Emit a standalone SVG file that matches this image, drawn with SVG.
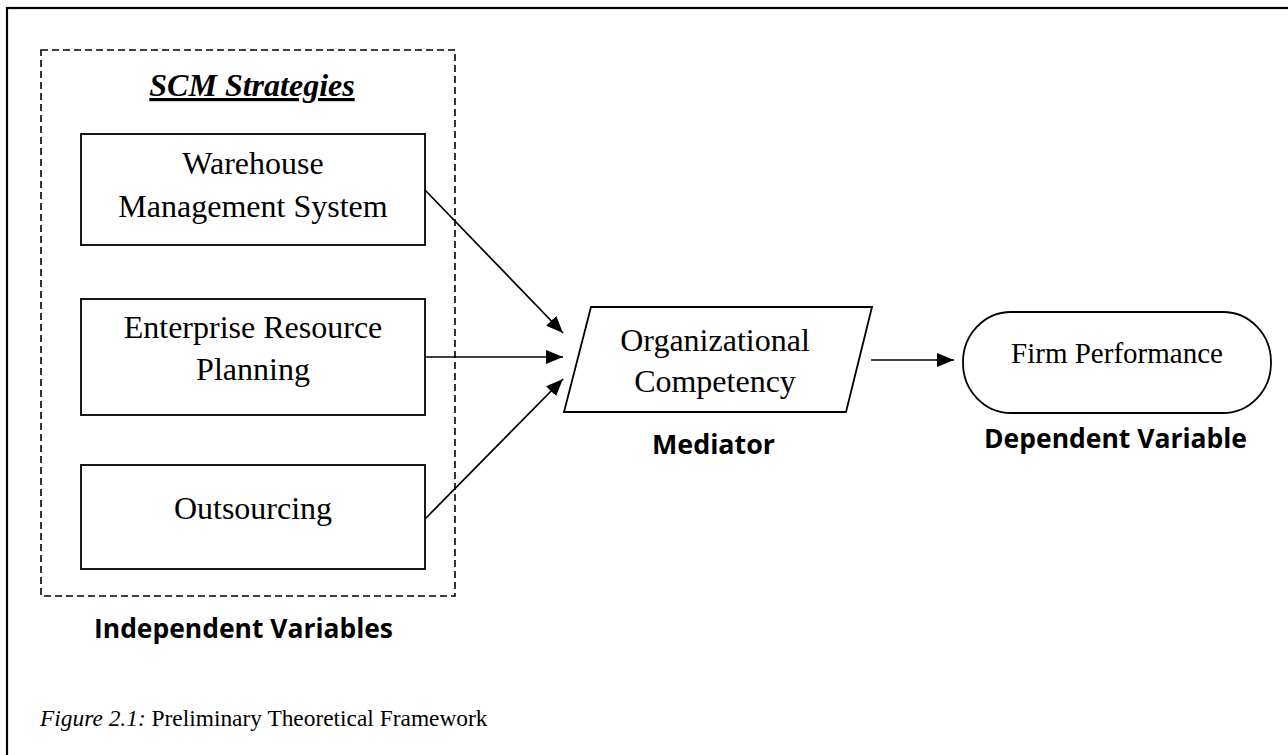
<svg xmlns="http://www.w3.org/2000/svg" width="1288" height="755" viewBox="0 0 1288 755">
<defs>
<marker id="arr" markerUnits="userSpaceOnUse" markerWidth="17" markerHeight="14" refX="17" refY="7" orient="auto">
<path d="M0,0 L17,7 L0,14 z" fill="#000"/>
</marker>
<style>
.box{fill:#fff;stroke:#000;stroke-width:1.8}
.serif{font-family:"Liberation Serif","Times New Roman",serif;fill:#000}
.t32{font-size:32px}
.lbl{font-family:"Open Sans","Liberation Sans",sans-serif;font-weight:700;font-size:26px;fill:#000}
.conn{stroke:#000;stroke-width:1.7;fill:none;marker-end:url(#arr)}
</style>
</defs>
<rect width="1288" height="755" fill="#fff"/>
<rect x="7" y="8" width="1320" height="800" fill="none" stroke="#000" stroke-width="2.2"/>

<g id="scm-group">
<rect x="41" y="50" width="414" height="546" fill="none" stroke="#000" stroke-width="1.6" stroke-dasharray="7,4"/>
<text class="serif" x="252" y="96" font-size="32" font-style="italic" font-weight="700" text-anchor="middle" text-decoration="underline">SCM Strategies</text>
<text class="lbl" x="243.5" y="638" text-anchor="middle" textLength="299" lengthAdjust="spacingAndGlyphs">Independent Variables</text>
</g>

<g id="wms">
<rect class="box" x="81" y="134" width="344" height="111"/>
<text class="serif t32" x="253" y="174" text-anchor="middle">Warehouse</text>
<text class="serif t32" x="253" y="217" text-anchor="middle">Management System</text>
</g>

<g id="erp">
<rect class="box" x="81" y="299" width="344" height="116"/>
<text class="serif t32" x="253" y="338" text-anchor="middle">Enterprise Resource</text>
<text class="serif t32" x="253" y="380" text-anchor="middle">Planning</text>
</g>

<g id="outsourcing">
<rect class="box" x="81" y="465" width="344" height="104"/>
<text class="serif t32" x="253" y="519" text-anchor="middle">Outsourcing</text>
</g>

<g id="org-competency">
<path class="box" d="M591,307 L872,307 L846,412 L564,412 Z"/>
<text class="serif t32" x="715" y="351" text-anchor="middle">Organizational</text>
<text class="serif t32" x="715" y="392" text-anchor="middle">Competency</text>
<text class="lbl" x="713.5" y="454" text-anchor="middle" textLength="123" lengthAdjust="spacingAndGlyphs">Mediator</text>
</g>

<g id="firm-performance">
<rect class="box" x="963" y="312" width="308" height="101" rx="48" ry="50"/>
<text class="serif" x="1117" y="363" font-size="29" text-anchor="middle">Firm Performance</text>
<text class="lbl" x="1115.5" y="448" text-anchor="middle" textLength="263" lengthAdjust="spacingAndGlyphs">Dependent Variable</text>
</g>

<g id="connectors">
<line class="conn" x1="425" y1="190" x2="563" y2="333"/>
<line class="conn" x1="425" y1="357" x2="563" y2="357"/>
<line class="conn" x1="425" y1="519" x2="563" y2="379"/>
<line class="conn" x1="871" y1="360" x2="954" y2="360"/>
</g>

<g id="caption">
<text class="serif" x="40" y="726" font-size="23.4"><tspan font-style="italic">Figure 2.1:</tspan> Preliminary Theoretical Framework</text>
</g>
</svg>
